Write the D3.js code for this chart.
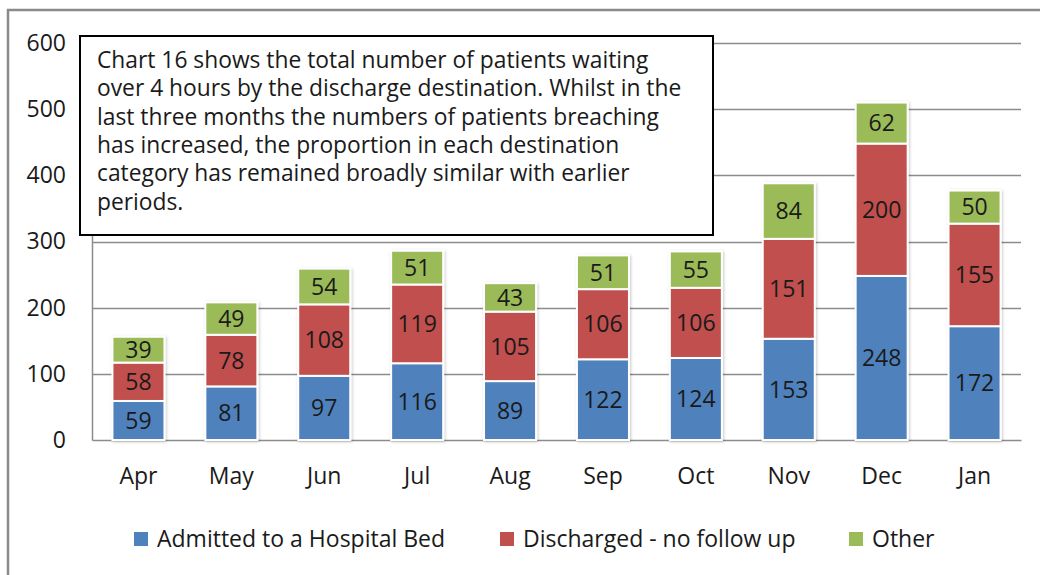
<!DOCTYPE html>
<html>
<head>
<meta charset="utf-8">
<script src="https://cdn.jsdelivr.net/npm/d3@7"></script>
<style>
  body { margin: 0; background: #fff; }
  svg text { font-family: "Open Sans", sans-serif; fill: #1a1a1a; }
</style>
</head>
<body>
<div id="chart"></div>
<script>
var months = ["Apr", "May", "Jun", "Jul", "Aug", "Sep", "Oct", "Nov", "Dec", "Jan"];
var admitted = [59, 81, 97, 116, 89, 122, 124, 153, 248, 172];
var discharged = [58, 78, 108, 119, 105, 106, 106, 151, 200, 155];
var other = [39, 49, 54, 51, 43, 51, 55, 84, 62, 50];
var seriesNames = ["Admitted to a Hospital Bed", "Discharged - no follow up", "Other"];
var yTicks = [0, 100, 200, 300, 400, 500, 600];
var note = [
  "Chart 16 shows the total number of patients waiting",
  "over 4 hours by the discharge destination. Whilst in the",
  "last three months the numbers of patients breaching",
  "has increased, the proportion in each destination",
  "category has remained broadly similar with earlier",
  "periods."
];

var colors = ["#4f81bd", "#c0504d", "#9bbb59"];
var W = 1040, H = 575;

var svg = d3.select("#chart").append("svg")
    .attr("width", W)
    .attr("height", H);

// outer frame of the chart
svg.append("path")
    .attr("d", "M8,575 L8,10 L1040,10")
    .attr("fill", "none")
    .attr("stroke", "#8a8a8a")
    .attr("stroke-width", 2.5);

var plot = {left: 92, right: 1021, top: 43, bottom: 440};

var x = d3.scaleBand()
    .domain(months)
    .range([plot.left, plot.right])
    .paddingInner(0.44)
    .paddingOuter(0.22);

var y = d3.scaleLinear()
    .domain([0, 600])
    .range([plot.bottom, plot.top]);

// gridlines
svg.append("g")
    .selectAll("line")
    .data(yTicks.slice(1))
    .enter().append("line")
    .attr("x1", plot.left)
    .attr("x2", plot.right)
    .attr("y1", function(d) { return Math.round(y(d)) + 0.5; })
    .attr("y2", function(d) { return Math.round(y(d)) + 0.5; })
    .attr("stroke", "#8c8c8c")
    .attr("stroke-width", 1.5);

// y axis
var yAxis = svg.append("g")
    .attr("transform", "translate(" + plot.left + ",0)")
    .call(d3.axisLeft(y).tickValues(yTicks).tickSize(0).tickPadding(26));
yAxis.select(".domain").attr("stroke", "#8c8c8c").attr("stroke-width", 1.5);
yAxis.selectAll("text")
    .style("font-size", "23px")
    .attr("fill", "#1a1a1a");

// x axis
var xAxis = svg.append("g")
    .attr("transform", "translate(0," + plot.bottom + ")")
    .call(d3.axisBottom(x).tickSize(0).tickPadding(28));
xAxis.select(".domain").attr("stroke", "#8c8c8c").attr("stroke-width", 1.5);
xAxis.selectAll("text")
    .style("font-size", "23px")
    .attr("fill", "#1a1a1a");

// shadow for the bars
var defs = svg.append("defs");
defs.append("filter")
    .attr("id", "shadow")
    .attr("x", "-20%").attr("y", "-20%")
    .attr("width", "140%").attr("height", "140%")
    .append("feDropShadow")
    .attr("dx", 1).attr("dy", 1)
    .attr("stdDeviation", 1.5)
    .attr("flood-color", "#000")
    .attr("flood-opacity", 0.22);

var table = months.map(function(m, i) {
    return {month: m, a: admitted[i], d: discharged[i], o: other[i]};
});
var stack = d3.stack().keys(["a", "d", "o"])(table);

var layers = svg.append("g").attr("filter", "url(#shadow)")
    .selectAll("g")
    .data(stack)
    .enter().append("g")
    .attr("fill", function(d, i) { return colors[i]; });

layers.selectAll("rect")
    .data(function(d) { return d; })
    .enter().append("rect")
    .attr("x", function(d) { return x(d.data.month); })
    .attr("y", function(d) { return y(d[1]); })
    .attr("width", x.bandwidth())
    .attr("height", function(d) { return y(d[0]) - y(d[1]); })
    .attr("stroke", "#fff")
    .attr("stroke-width", 2);

// value labels
var labels = svg.append("g");
stack.forEach(function(layer) {
    labels.selectAll(null)
        .data(layer)
        .enter().append("text")
        .attr("x", function(d) { return x(d.data.month) + x.bandwidth() / 2; })
        .attr("y", function(d) { return (y(d[0]) + y(d[1])) / 2; })
        .attr("dy", "0.36em")
        .attr("text-anchor", "middle")
        .style("font-size", "23px")
        .text(function(d) { return d[1] - d[0]; });
});

// annotation box
var box = svg.append("g");
box.append("rect")
    .attr("x", 80)
    .attr("y", 36)
    .attr("width", 633)
    .attr("height", 199)
    .attr("fill", "#fff")
    .attr("stroke", "#000")
    .attr("stroke-width", 2);
box.selectAll("text")
    .data(note)
    .enter().append("text")
    .attr("x", 97)
    .attr("y", function(d, i) { return 68 + i * 28.3; })
    .style("font-size", "22.8px")
    .text(function(d) { return d; });

// legend
var legendX = [134, 500, 849];
var legend = svg.append("g")
    .selectAll("g")
    .data(seriesNames)
    .enter().append("g")
    .attr("transform", function(d, i) { return "translate(" + legendX[i] + ",532)"; });
legend.append("rect")
    .attr("width", 14)
    .attr("height", 14)
    .attr("fill", function(d, i) { return colors[i]; });
legend.append("text")
    .attr("x", 23)
    .attr("y", 7)
    .attr("dy", "0.36em")
    .style("font-size", "23px")
    .text(function(d) { return d; });
</script>
</body>
</html>
